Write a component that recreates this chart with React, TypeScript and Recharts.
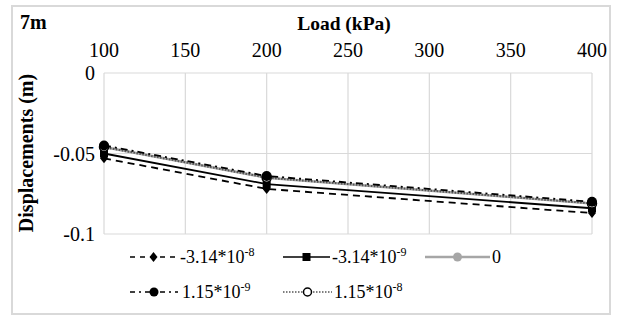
import React from 'react';
import { LineChart, Line, XAxis, YAxis, CartesianGrid } from 'recharts';

const loads = [100, 200, 400];
const sM314e8 = [-0.053, -0.072, -0.087];
const sM314e9 = [-0.05, -0.069, -0.084];
const sZero = [-0.046, -0.065, -0.081];
const sP115e9 = [-0.045, -0.064, -0.08];
const sP115e8 = [-0.046, -0.065, -0.081];
const xTicks = [100, 150, 200, 250, 300, 350, 400];
const yTicks = [0, -0.05, -0.1];

const data = loads.map((x, i) => ({
  x,
  a: sM314e8[i],
  b: sM314e9[i],
  c: sZero[i],
  d: sP115e9[i],
  e: sP115e8[i],
}));

const FONT = 'Liberation Serif';

const Diamond = (p: any) => {
  const { cx, cy } = p;
  if (cx == null || cy == null) return null;
  return <path key={p.key} d={`M${cx},${cy - 5}L${cx + 4},${cy}L${cx},${cy + 5}L${cx - 4},${cy}Z`} fill="#000" />;
};
const Square = (p: any) => {
  const { cx, cy } = p;
  if (cx == null || cy == null) return null;
  return <rect key={p.key} x={cx - 4} y={cy - 4} width={8} height={8} fill="#000" />;
};
const GrayDot = (p: any) => {
  const { cx, cy } = p;
  if (cx == null || cy == null) return null;
  return <circle key={p.key} cx={cx} cy={cy} r={4.5} fill="#a6a6a6" />;
};
const BlackDot = (p: any) => {
  const { cx, cy } = p;
  if (cx == null || cy == null) return null;
  return <circle key={p.key} cx={cx} cy={cy} r={5} fill="#000" />;
};
const OpenDot = (p: any) => {
  const { cx, cy } = p;
  if (cx == null || cy == null) return null;
  return <circle key={p.key} cx={cx} cy={cy} r={4.5} fill="#fff" stroke="#000" strokeWidth={1.5} />;
};

const Sample = ({ color, dash, marker, w, sw = 1.6 }: any) => {
  const m = w / 2;
  return (
    <svg width={w} height={14} style={{ display: 'block' }}>
      <line x1={0} y1={7} x2={w} y2={7} stroke={color} strokeWidth={sw} strokeDasharray={dash} />
      {marker === 'diamond' && <path d={`M${m},2L${m + 4},7L${m},12L${m - 4},7Z`} fill="#000" />}
      {marker === 'square' && <rect x={m - 4} y={3} width={8} height={8} fill="#000" />}
      {marker === 'gray' && <circle cx={m} cy={7} r={4.5} fill="#a6a6a6" />}
      {marker === 'black' && <circle cx={m} cy={7} r={4.5} fill="#000" />}
      {marker === 'open' && <circle cx={m} cy={7} r={4} fill="#fff" stroke="#000" strokeWidth={1.5} />}
    </svg>
  );
};

const Item = ({ left, cy, sample, textLeft, label }: any) => (
  <>
    <div style={{ position: 'absolute', left, top: cy - 7 }}>{sample}</div>
    <div style={{ position: 'absolute', left: textLeft, top: cy - 11, fontFamily: FONT, fontSize: 18, whiteSpace: 'nowrap', lineHeight: '22px' }}>
      {label}
    </div>
  </>
);

const Sup = ({ base, exp }: any) => (
  <span>
    {base}
    <span style={{ fontSize: 12, position: 'relative', top: -7 }}>{exp}</span>
  </span>
);

export default function App() {
  return (
    <div style={{ position: 'absolute', left: 0, top: 0, width: 622, height: 320, background: '#fff' }}>
      <div style={{ position: 'absolute', left: 11, top: 5, width: 600, height: 310, border: '2px solid #d9d9d9', boxSizing: 'border-box' }} />
      <LineChart width={622} height={320} data={data} margin={{ top: 43, right: 30, bottom: 86, left: 64 }}>
        <CartesianGrid stroke="#d9d9d9" strokeWidth={1.2} />
        <XAxis
          dataKey="x"
          type="number"
          orientation="top"
          domain={[100, 400]}
          ticks={xTicks}
          height={30}
          axisLine={false}
          tickLine={false}
          tickSize={0}
          tickMargin={16}
          tick={{ fill: '#000', fontFamily: FONT, fontSize: 20 }}
        />
        <YAxis
          type="number"
          domain={[-0.1, 0]}
          ticks={yTicks}
          width={40}
          axisLine={false}
          tickLine={false}
          tickSize={0}
          tickMargin={9}
          tick={{ fill: '#000', fontFamily: FONT, fontSize: 20 }}
          tickFormatter={(v: number) => String(v)}
        />
        <Line dataKey="c" stroke="#a6a6a6" strokeWidth={2.5} dot={GrayDot} isAnimationActive={false} />
        <Line dataKey="a" stroke="#000" strokeWidth={1.8} strokeDasharray="7 5" dot={Diamond} isAnimationActive={false} />
        <Line dataKey="b" stroke="#000" strokeWidth={1.8} dot={Square} isAnimationActive={false} />
        <Line dataKey="e" stroke="#555" strokeWidth={2} strokeDasharray="1.5 1.5" dot={OpenDot} isAnimationActive={false} />
        <Line dataKey="d" stroke="#000" strokeWidth={1.8} strokeDasharray="7 4 2 4" dot={BlackDot} isAnimationActive={false} />
      </LineChart>
      <div style={{ position: 'absolute', left: 20, top: 11, fontFamily: FONT, fontWeight: 'bold', fontSize: 20 }}>7m</div>
      <div style={{ position: 'absolute', left: 244, width: 200, textAlign: 'center', top: 13, fontFamily: FONT, fontWeight: 'bold', fontSize: 19.5 }}>Load (kPa)</div>
      <div
        style={{
          position: 'absolute',
          left: 26,
          top: 153,
          transform: 'translate(-50%, -50%) rotate(-90deg)',
          fontFamily: FONT,
          fontWeight: 'bold',
          fontSize: 20,
          whiteSpace: 'nowrap',
        }}
      >
        Displacements (m)
      </div>
      <Item left={130} cy={257} textLeft={180} sample={<Sample color="#000" dash="5 5" marker="diamond" w={47} />} label={<Sup base="-3.14*10" exp="-8" />} />
      <Item left={283} cy={257} textLeft={332} sample={<Sample color="#000" marker="square" w={47} />} label={<Sup base="-3.14*10" exp="-9" />} />
      <Item left={425} cy={257} textLeft={492} sample={<Sample color="#a6a6a6" marker="gray" w={65} sw={2.5} />} label="0" />
      <Item left={130} cy={292} textLeft={182} sample={<Sample color="#000" dash="5 4 2 4" marker="black" w={48} />} label={<Sup base="1.15*10" exp="-9" />} />
      <Item left={283} cy={292} textLeft={334} sample={<Sample color="#555" dash="1.5 1.5" marker="open" w={49} />} label={<Sup base="1.15*10" exp="-8" />} />
    </div>
  );
}
